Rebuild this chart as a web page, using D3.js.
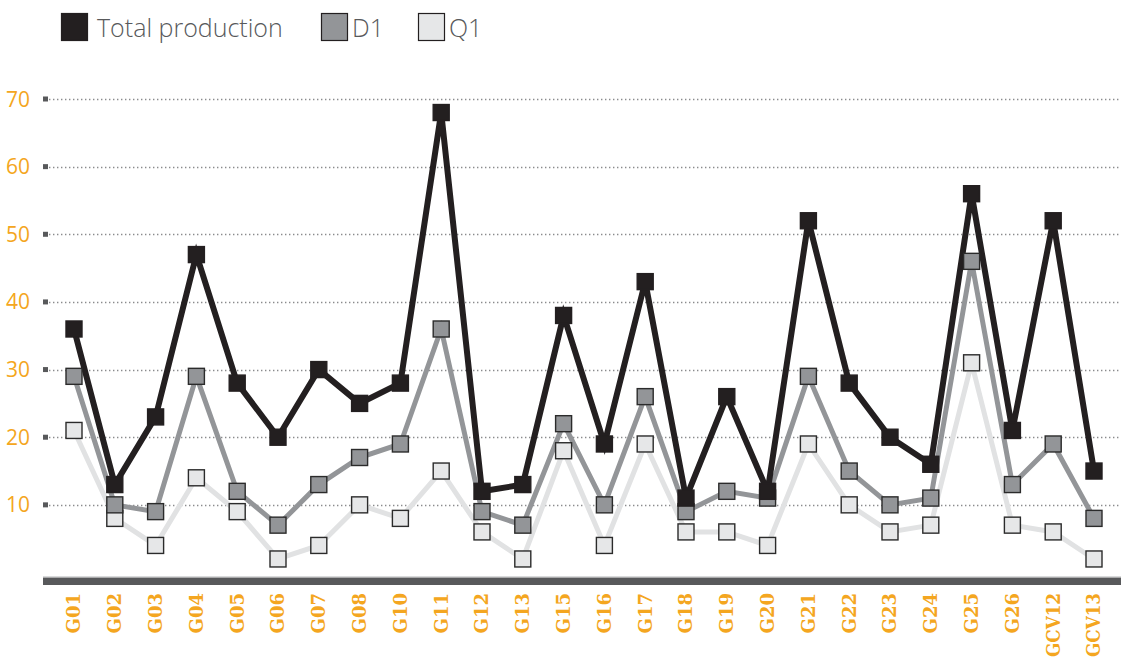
<!DOCTYPE html>
<html>
<head>
<meta charset="utf-8">
<script src="https://cdn.jsdelivr.net/npm/d3@7"></script>
<style>
  body { margin: 0; background: #fff; }
  svg { display: block; }
</style>
</head>
<body>
<svg id="chart"></svg>
<script>
// Chart data
const categories = ["G01", "G02", "G03", "G04", "G05", "G06", "G07", "G08", "G10", "G11",
    "G12", "G13", "G15", "G16", "G17", "G18", "G19", "G20", "G21", "G22",
    "G23", "G24", "G25", "G26", "GCV12", "GCV13"];
const totalProduction = [36, 13, 23, 47, 28, 20, 30, 25, 28, 68, 12, 13, 38, 19, 43, 11, 26, 12, 52, 28, 20, 16, 56, 21, 52, 15];
const d1 = [29, 10, 9, 29, 12, 7, 13, 17, 19, 36, 9, 7, 22, 10, 26, 9, 12, 11, 29, 15, 10, 11, 46, 13, 19, 8];
const q1 = [21, 8, 4, 14, 9, 2, 4, 10, 8, 15, 6, 2, 18, 4, 19, 6, 6, 4, 19, 10, 6, 7, 31, 7, 6, 2];
const yTicks = [10, 20, 30, 40, 50, 60, 70];
const seriesNames = ["Total production", "D1", "Q1"];

// Dimensions
const width = 1121;
const height = 662;
const orange = "#f4a620";
const darkGrey = "#58595b";

const svg = d3.select("#chart")
    .attr("width", width)
    .attr("height", height);

// Scales
const xScale = d3.scalePoint()
    .domain(categories)
    .range([74, 1094]);

const yScale = d3.scaleLinear()
    .domain([0, 70])
    .range([572.5, 99]);

// Series styling (drawn bottom to top)
const series = [
    { name: seriesNames[2], values: q1, line: "#e1e2e3", width: 5, fill: "#e6e7e8" },
    { name: seriesNames[1], values: d1, line: "#939598", width: 5, fill: "#939598" },
    { name: seriesNames[0], values: totalProduction, line: "#231f20", width: 6, fill: "#231f20" }
];

// Grid lines + tick squares
const yAxis = svg.append("g").attr("class", "y-axis");
yAxis.selectAll("line")
    .data(yTicks)
    .enter()
    .append("line")
    .attr("x1", 49)
    .attr("x2", width)
    .attr("y1", d => Math.round(yScale(d)) + 0.5)
    .attr("y2", d => Math.round(yScale(d)) + 0.5)
    .attr("stroke", "#8a8b8d")
    .attr("stroke-width", 1.3)
    .attr("stroke-dasharray", "1.4,2.6");

yAxis.selectAll("rect")
    .data(yTicks)
    .enter()
    .append("rect")
    .attr("x", 43)
    .attr("y", d => yScale(d) - 2.5)
    .attr("width", 5)
    .attr("height", 5)
    .attr("fill", darkGrey);

yAxis.selectAll("text")
    .data(yTicks)
    .enter()
    .append("text")
    .attr("x", 30)
    .attr("y", d => yScale(d))
    .attr("dy", "0.36em")
    .attr("text-anchor", "end")
    .style("font-family", "'Open Sans', sans-serif")
    .style("font-size", "21px")
    .attr("fill", orange)
    .text(d => d);

// Baseline bar
svg.append("line")
    .attr("x1", 43)
    .attr("x2", width)
    .attr("y1", 576.5)
    .attr("y2", 576.5)
    .attr("stroke", "#d9dadb")
    .attr("stroke-width", 1);
svg.append("rect")
    .attr("x", 43)
    .attr("y", 577.5)
    .attr("width", width - 43)
    .attr("height", 7.5)
    .attr("fill", darkGrey);

// X labels (rotated), long ones squeezed to fit like the original
svg.append("g")
    .selectAll("text")
    .data(categories)
    .enter()
    .append("text")
    .attr("transform", d => `translate(${xScale(d)}, 593) rotate(-90)`)
    .attr("dy", "0.36em")
    .attr("text-anchor", "end")
    .style("font-family", "'DejaVu Serif', serif")
    .style("font-weight", "bold")
    .style("font-size", "18px")
    .attr("fill", orange)
    .text(d => d)
    .each(function() {
        if (this.getComputedTextLength() > 64) {
            d3.select(this)
                .attr("textLength", 64)
                .attr("lengthAdjust", "spacingAndGlyphs");
        }
    });

// Lines
const line = d3.line()
    .x((d, i) => xScale(categories[i]))
    .y(d => yScale(d));

series.forEach(s => {
    svg.append("path")
        .datum(s.values)
        .attr("fill", "none")
        .attr("stroke", s.line)
        .attr("stroke-width", s.width)
        .attr("stroke-linejoin", "miter")
        .attr("d", line);
});

// Markers
const size = 16;
series.forEach(s => {
    svg.append("g")
        .selectAll("rect")
        .data(s.values)
        .enter()
        .append("rect")
        .attr("x", (d, i) => xScale(categories[i]) - size / 2)
        .attr("y", d => yScale(d) - size / 2)
        .attr("width", size)
        .attr("height", size)
        .attr("fill", s.fill)
        .attr("stroke", s.fill === "#231f20" ? "#231f20" : "#2b2b2b")
        .attr("stroke-width", 1.4);
});

// Legend
const legendItems = [
    { label: seriesNames[0], fill: "#231f20", x: 61, tx: 97 },
    { label: seriesNames[1], fill: "#939598", x: 321, tx: 352 },
    { label: seriesNames[2], fill: "#e6e7e8", x: 418, tx: 449 }
];
const legend = svg.append("g");
legendItems.forEach(item => {
    legend.append("rect")
        .attr("x", item.x + 0.5)
        .attr("y", 13.5)
        .attr("width", 26)
        .attr("height", 27)
        .attr("fill", item.fill)
        .attr("stroke", "#231f20")
        .attr("stroke-width", 1.2);
    legend.append("text")
        .attr("x", item.tx)
        .attr("y", 37)
        .style("font-family", "'Open Sans', sans-serif")
        .style("font-size", "25px")
        .style("font-weight", 300)
        .attr("fill", darkGrey)
        .text(item.label);
});
</script>
</body>
</html>
